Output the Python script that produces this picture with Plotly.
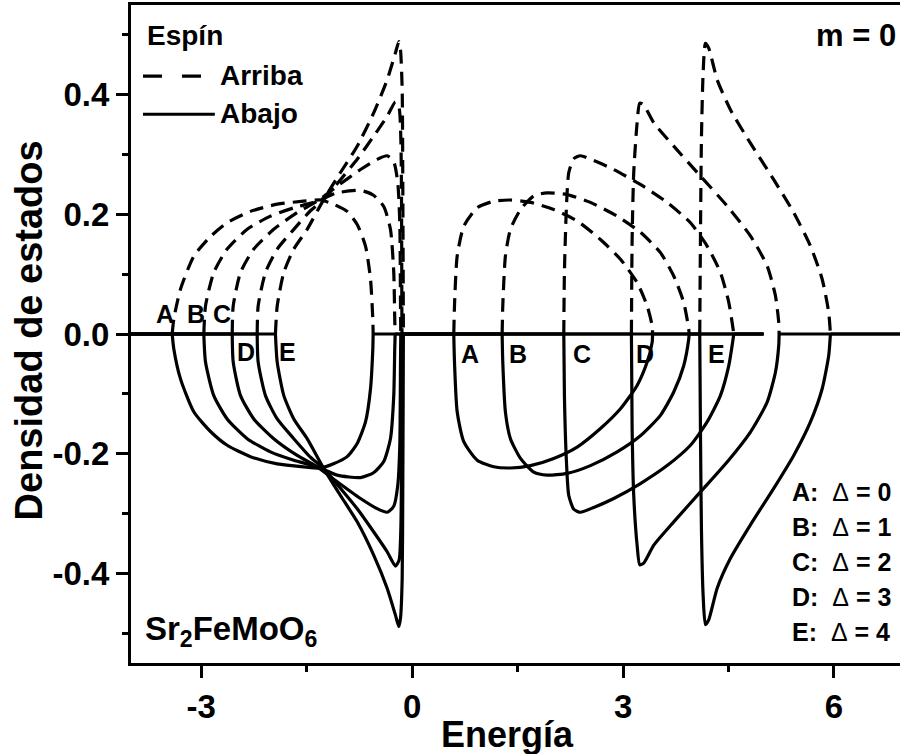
import plotly.graph_objects as go

# ---------------- data ----------------
labels = ["A", "B", "C", "D", "E"]
deltas = [0, 1, 2, 3, 4]
grid_start = [-4.0, -4.0, -4.0, -4.0, -4.0]   # energy grid ends of each calculated curve
grid_end = [5.0, 5.0, 5.0, 7.0, 7.0]

# lower (left) band: energy, spin-up DOS, spin-down DOS
left_E_A = [-3.414, -3.391, -3.296, -3.107, -2.869, -2.632, -2.300, -1.920, -1.546, -1.304, -1.119, -0.925, -0.782, -0.664, -0.593, -0.560, -0.555]
left_up_A = [0, 0.025, 0.075, 0.130, 0.163, 0.186, 0.205, 0.217, 0.222, 0.224, 0.217, 0.205, 0.183, 0.147, 0.092, 0.025, 0]
left_dn_A = [0, -0.025, -0.075, -0.130, -0.163, -0.186, -0.205, -0.217, -0.222, -0.224, -0.217, -0.205, -0.183, -0.147, -0.092, -0.025, 0]
right_E_A = [0.592, 0.602, 0.640, 0.734, 0.925, 1.161, 1.398, 1.683, 2.014, 2.347, 2.679, 2.963, 3.200, 3.343, 3.414, 3.420]
right_up_A = [0, 0.047, 0.130, 0.180, 0.211, 0.222, 0.224, 0.220, 0.208, 0.189, 0.158, 0.125, 0.086, 0.047, 0.014, 0]
right_dn_A = [0, -0.047, -0.130, -0.180, -0.211, -0.222, -0.224, -0.220, -0.208, -0.189, -0.158, -0.125, -0.086, -0.047, -0.014, 0]

left_E_B = [-2.964, -2.940, -2.822, -2.632, -2.347, -2.016, -1.684, -1.351, -1.067, -0.735, -0.550, -0.404, -0.309, -0.262, -0.248, -0.242]
left_up_B = [0, 0.047, 0.103, 0.142, 0.175, 0.197, 0.211, 0.222, 0.236, 0.240, 0.232, 0.213, 0.175, 0.103, 0.025, 0]
left_dn_B = [0, -0.047, -0.103, -0.142, -0.175, -0.197, -0.211, -0.222, -0.236, -0.240, -0.232, -0.213, -0.175, -0.103, -0.025, 0]
right_E_B = [1.280, 1.289, 1.327, 1.398, 1.541, 1.730, 1.920, 2.205, 2.536, 2.916, 3.247, 3.532, 3.721, 3.863, 3.935, 3.940]
right_up_B = [0, 0.047, 0.131, 0.175, 0.208, 0.231, 0.236, 0.233, 0.220, 0.197, 0.170, 0.136, 0.097, 0.053, 0.008, 0]
right_dn_B = [0, -0.047, -0.131, -0.175, -0.208, -0.231, -0.236, -0.233, -0.220, -0.197, -0.170, -0.136, -0.097, -0.053, -0.008, 0]

left_E_C = [-2.560, -2.546, -2.442, -2.253, -1.969, -1.636, -1.351, -1.067, -0.735, -0.498, -0.356, -0.262, -0.205, -0.176, -0.166, -0.162]
left_up_C = [0, 0.047, 0.103, 0.142, 0.175, 0.203, 0.222, 0.247, 0.275, 0.292, 0.298, 0.288, 0.253, 0.186, 0.047, 0]
left_dn_C = [0, -0.047, -0.103, -0.142, -0.175, -0.203, -0.222, -0.247, -0.275, -0.292, -0.298, -0.288, -0.253, -0.186, -0.047, 0]
right_E_C = [2.157, 2.166, 2.195, 2.228, 2.299, 2.394, 2.583, 2.868, 3.247, 3.627, 3.959, 4.196, 4.385, 4.504, 4.566, 4.575]
right_up_C = [0, 0.103, 0.214, 0.270, 0.293, 0.298, 0.290, 0.275, 0.250, 0.220, 0.186, 0.147, 0.103, 0.053, 0.008, 0]
right_dn_C = [0, -0.103, -0.214, -0.270, -0.293, -0.298, -0.290, -0.275, -0.250, -0.220, -0.186, -0.147, -0.103, -0.053, -0.008, 0]

left_E_D = [-2.205, -2.191, -2.087, -1.920, -1.684, -1.447, -1.257, -1.020, -0.782, -0.546, -0.356, -0.238, -0.186, -0.161, -0.151, -0.147, -0.145]
left_up_D = [0, 0.047, 0.103, 0.142, 0.175, 0.206, 0.225, 0.258, 0.292, 0.331, 0.364, 0.388, 0.378, 0.325, 0.213, 0.047, 0]
left_dn_D = [0, -0.047, -0.103, -0.142, -0.175, -0.206, -0.225, -0.258, -0.292, -0.331, -0.364, -0.388, -0.378, -0.325, -0.213, -0.047, 0]
right_E_D = [3.119, 3.129, 3.152, 3.200, 3.238, 3.294, 3.437, 3.721, 4.101, 4.481, 4.812, 5.050, 5.168, 5.215, 5.220]
right_up_D = [0, 0.158, 0.270, 0.353, 0.386, 0.383, 0.353, 0.314, 0.264, 0.214, 0.164, 0.114, 0.064, 0.019, 0]
right_dn_D = [0, -0.158, -0.270, -0.353, -0.386, -0.383, -0.353, -0.314, -0.264, -0.214, -0.164, -0.114, -0.064, -0.019, 0]

left_E_E = [-1.945, -1.920, -1.826, -1.684, -1.494, -1.257, -1.020, -0.782, -0.546, -0.356, -0.238, -0.190, -0.166, -0.142, -0.134, -0.128, -0.125]
left_up_E = [0, 0.047, 0.103, 0.142, 0.175, 0.225, 0.270, 0.314, 0.370, 0.425, 0.470, 0.489, 0.475, 0.408, 0.270, 0.103, 0]
left_dn_E = [0, -0.047, -0.103, -0.142, -0.175, -0.225, -0.270, -0.314, -0.370, -0.425, -0.470, -0.489, -0.475, -0.408, -0.270, -0.103, 0]
right_E_E = [4.091, 4.101, 4.115, 4.139, 4.172, 4.219, 4.339, 4.528, 4.812, 5.144, 5.428, 5.666, 5.832, 5.926, 5.950]
right_up_E = [0, 0.158, 0.325, 0.436, 0.486, 0.478, 0.425, 0.375, 0.319, 0.258, 0.203, 0.147, 0.092, 0.036, 0]
right_dn_E = [0, -0.158, -0.325, -0.436, -0.486, -0.478, -0.425, -0.375, -0.319, -0.258, -0.203, -0.147, -0.092, -0.036, 0]

# curve-letter label positions (energy, DOS)
left_label_x = [-3.52, -3.07, -2.71, -2.36, -1.77]
left_label_y = [0.033, 0.033, 0.033, -0.030, -0.030]
right_label_x = [0.82, 1.50, 2.41, 3.31, 4.33]
right_label_y = [-0.033, -0.033, -0.033, -0.033, -0.033]

x_tickvals = [-3, 0, 3, 6]
x_ticktext = ["-3", "0", "3", "6"]
y_tickvals = [-0.4, -0.2, 0.0, 0.2, 0.4]
y_ticktext = ["-0.4", "-0.2", "0.0", "0.2", "0.4"]

bands = [
    (left_E_A, left_up_A, left_dn_A, right_E_A, right_up_A, right_dn_A),
    (left_E_B, left_up_B, left_dn_B, right_E_B, right_up_B, right_dn_B),
    (left_E_C, left_up_C, left_dn_C, right_E_C, right_up_C, right_dn_C),
    (left_E_D, left_up_D, left_dn_D, right_E_D, right_up_D, right_dn_D),
    (left_E_E, left_up_E, left_dn_E, right_E_E, right_up_E, right_dn_E),
]

# ---------------- figure ----------------
FONT = "Liberation Sans, Arial, sans-serif"
LW = 3.2
DASH = "14px,8px"

fig = go.Figure()
for lab, g0, g1, (lE, lu, ld, rE, ru, rd) in zip(labels, grid_start, grid_end, bands):
    # zero-DOS parts of the curve (outside the bands)
    fig.add_trace(go.Scatter(
        x=[g0, lE[0], None, lE[-1], rE[0], None, rE[-1], g1],
        y=[0, 0, None, 0, 0, None, 0, 0],
        mode="lines", line=dict(color="black", width=LW), showlegend=False, name=f"{lab} cero"))
    for xs, ys in ((lE, ld), (rE, rd)):
        fig.add_trace(go.Scatter(x=xs, y=ys, mode="lines", name=f"{lab} abajo",
                                 line=dict(color="black", width=LW, shape="spline", smoothing=0.6),
                                 showlegend=False))
    for xs, ys in ((lE, lu), (rE, ru)):
        fig.add_trace(go.Scatter(x=xs, y=ys, mode="lines", name=f"{lab} arriba",
                                 line=dict(color="black", width=LW, dash=DASH, shape="spline", smoothing=0.6),
                                 showlegend=False))

ann = []
def txt(s, x, y, size, xanchor="left", yanchor="middle", xref="paper", yref="paper"):
    ann.append(dict(text=s, x=x, y=y, xref=xref, yref=yref, showarrow=False,
                    xanchor=xanchor, yanchor=yanchor,
                    font=dict(family=FONT, size=size, color="black", weight="bold")))

for lab, x, y in zip(labels, left_label_x, left_label_y):
    txt(lab, x, y, 25, xanchor="center", xref="x", yref="y")
for lab, x, y in zip(labels, right_label_x, right_label_y):
    txt(lab, x, y, 25, xanchor="center", xref="x", yref="y")

# spin legend
txt("Espín", 0.018, 0.953, 28)
txt("Arriba", 0.113, 0.893, 28)
txt("Abajo", 0.113, 0.835, 28)
txt("m = 0", 0.997, 0.953, 31, xanchor="right")
txt("Sr<sub>2</sub>FeMoO<sub>6</sub>", 0.015, 0.048, 33)

# delta legend
legend_rows = [f"{l}:\u00a0\u00a0<span style='font-weight:normal'>Δ</span> = {d}" for l, d in zip(labels, deltas)]
for i, row in enumerate(legend_rows):
    txt(row, 0.857, 0.260 - i * 0.0532, 25)

# axis titles
txt("Energía", 0.489, -0.108, 36, xanchor="center")
ann.append(dict(text="Densidad de estados", x=-0.133, y=0.505, xref="paper", yref="paper",
                showarrow=False, textangle=-90, xanchor="center", yanchor="middle",
                font=dict(family=FONT, size=38, color="black", weight="bold")))

shapes = [
    dict(type="line", xref="paper", yref="paper", x0=0.0156, x1=0.0923, y0=0.892, y1=0.892,
         line=dict(color="black", width=LW, dash="19px,20px")),
    dict(type="line", xref="paper", yref="paper", x0=0.0156, x1=0.109, y0=0.834, y1=0.834,
         line=dict(color="black", width=LW)),
]

axis_common = dict(showline=True, linecolor="black", linewidth=3, showgrid=False, zeroline=False,
                   ticks="outside", ticklen=12, tickwidth=2.5, tickcolor="black",
                   tickfont=dict(family=FONT, size=33, color="black", weight="bold"))

fig.update_layout(
    width=900, height=754,
    margin=dict(l=131, r=0, t=5, b=91),
    paper_bgcolor="white", plot_bgcolor="white",
    showlegend=False,
    annotations=ann, shapes=shapes,
    xaxis=dict(range=[-4, 6.94], mirror=True, tickmode="array", tickvals=x_tickvals, ticktext=x_ticktext,
               minor=dict(tickmode="linear", tick0=0, dtick=1.5, ticks="outside", ticklen=6, tickwidth=2.5, tickcolor="black"),
               **axis_common),
    yaxis=dict(range=[-0.55, 0.55], mirror=False, tickmode="array", tickvals=y_tickvals, ticktext=y_ticktext,
               minor=dict(tickmode="linear", tick0=0, dtick=0.1, ticks="outside", ticklen=6, tickwidth=2.5, tickcolor="black"),
               **axis_common),
)

fig.write_html("out.html")
